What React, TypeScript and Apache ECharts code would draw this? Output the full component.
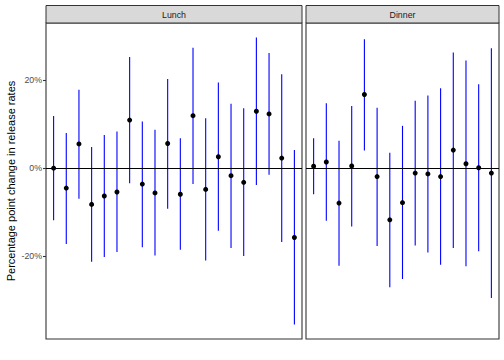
import React, { useEffect, useRef } from "react";
import * as echarts from "echarts";

const facets = ["Lunch", "Dinner"];
const lunchPoint = [0, -4.5, 5.5, -8.2, -6.3, -5.4, 10.9, -3.6, -5.6, 5.6, -5.9, 11.9, -4.8, 2.6, -1.7, -3.2, 12.9, 12.3, 2.3, -15.7];
const lunchLower = [-11.8, -17.2, -6.9, -21.2, -20.1, -19.0, -3.4, -17.9, -19.8, -9.2, -18.5, -3.6, -20.9, -14.2, -18.1, -19.9, -3.8, -1.5, -16.7, -35.4];
const lunchUpper = [11.8, 8.0, 17.8, 4.8, 7.5, 8.3, 25.2, 10.6, 8.7, 20.2, 6.8, 27.3, 11.3, 19.4, 14.6, 13.6, 29.6, 26.1, 21.3, 4.1];
const dinnerPoint = [0.45, 1.4, -7.9, 0.5, 16.7, -1.9, -11.7, -7.8, -1.1, -1.3, -1.9, 4.1, 1.0, 0.1, -1.1];
const dinnerLower = [-5.9, -11.9, -22.1, -13.2, 4.0, -17.6, -27.0, -25.1, -17.5, -19.1, -21.9, -18.1, -22.2, -18.8, -29.4];
const dinnerUpper = [6.8, 14.7, 6.2, 14.1, 29.2, 13.7, 3.5, 9.6, 15.3, 16.5, 18.1, 26.2, 24.4, 19.0, 27.2];
const yTicks = [-20, 0, 20];
const yTitle = "Percentage point change in release rates";

export default function App() {
  const ref = useRef<HTMLDivElement>(null);
  useEffect(() => {
    if (!ref.current) return;
    const chart = echarts.init(ref.current, null, { renderer: "svg" });
    const groups = [
      { point: lunchPoint, lower: lunchLower, upper: lunchUpper },
      { point: dinnerPoint, lower: dinnerLower, upper: dinnerUpper },
    ];
    const grids = [
      { left: 46, top: 23, width: 256, height: 316 },
      { left: 306, top: 23, width: 193, height: 316 },
    ];
    const yMin = -38.7;
    const yMax = 32.9;
    const series: any[] = [];
    groups.forEach((g, i) => {
      series.push({
        type: "custom",
        xAxisIndex: i,
        yAxisIndex: i,
        z: 2,
        data: g.point.map((_, k) => [k + 1, g.lower[k], g.upper[k]]),
        renderItem: (params: any, api: any) => {
          const x = api.value(0);
          const lo = api.coord([x, api.value(1)]);
          const hi = api.coord([x, api.value(2)]);
          return {
            type: "line",
            shape: { x1: lo[0], y1: lo[1], x2: hi[0], y2: hi[1] },
            style: { stroke: "#0000FF", lineWidth: 1.1 },
          };
        },
        markLine: {
          silent: true,
          symbol: "none",
          label: { show: false },
          lineStyle: { color: "#000000", width: 1.1, type: "solid" },
          data: [{ yAxis: 0 }],
          z: 3,
        },
      });
      series.push({
        type: "scatter",
        xAxisIndex: i,
        yAxisIndex: i,
        z: 4,
        symbol: "circle",
        symbolSize: 5,
        itemStyle: { color: "#000000", opacity: 1 },
        data: g.point.map((v, k) => [k + 1, v]),
      });
    });
    const graphics: any[] = [];
    grids.forEach((gr, i) => {
      graphics.push({
        type: "rect",
        shape: { x: gr.left, y: 5.5, width: gr.width, height: 17.5 },
        style: { fill: "#D9D9D9", stroke: "#333333", lineWidth: 1 },
      });
      graphics.push({
        type: "text",
        x: gr.left + gr.width / 2,
        y: 14.5,
        style: {
          text: facets[i],
          fill: "#1A1A1A",
          font: "8.8px 'Liberation Sans', Arial, sans-serif",
          textAlign: "center",
          textVerticalAlign: "middle",
        },
      });
    });
    graphics.push({
      type: "text",
      x: 11,
      y: 181,
      rotation: Math.PI / 2,
      style: {
        text: yTitle,
        fill: "#000000",
        font: "11px 'Liberation Sans', Arial, sans-serif",
        textAlign: "center",
        textVerticalAlign: "middle",
      },
    });
    chart.setOption({
      animation: false,
      backgroundColor: "#FFFFFF",
      grid: grids.map((gr) => ({
        ...gr,
        show: true,
        borderColor: "#333333",
        borderWidth: 1.1,
        backgroundColor: "#FFFFFF",
      })),
      xAxis: groups.map((g, i) => ({
        type: "value",
        gridIndex: i,
        min: 0.4,
        max: g.point.length + 0.6,
        axisLine: { show: false },
        axisTick: { show: false },
        axisLabel: { show: false },
        splitLine: { show: false },
      })),
      yAxis: groups.map((g, i) => ({
        type: "value",
        gridIndex: i,
        min: yMin,
        max: yMax,
        axisLine: { show: false },
        axisTick: {
          show: i === 0,
          length: 3,
          customValues: yTicks,
          lineStyle: { color: "#333333", width: 1.1 },
        },
        axisLabel: {
          show: i === 0,
          customValues: yTicks,
          formatter: (v: number) => `${v}%`,
          color: "#4D4D4D",
          fontSize: 8.8,
          fontFamily: "'Liberation Sans', Arial, sans-serif",
          margin: 4,
        },
        splitLine: { show: false },
      })),
      series,
      graphic: graphics,
    });
    return () => chart.dispose();
  }, []);
  return (
    <div
      ref={ref}
      style={{ position: "absolute", left: 0, top: 0, width: 504, height: 360 }}
    />
  );
}
